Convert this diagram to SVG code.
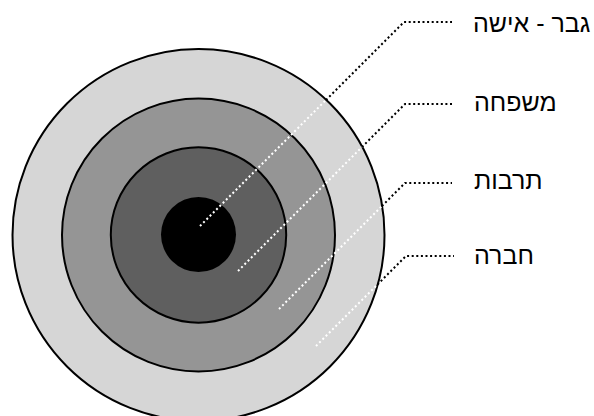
<svg xmlns="http://www.w3.org/2000/svg" width="594" height="416" viewBox="0 0 594 416">
<style>
.ring{stroke:#000;stroke-width:2}
.lbl{font-family:"Liberation Sans","DejaVu Sans",sans-serif;font-size:25px;fill:#000}
.w{fill:none;stroke:#fff;stroke-width:2;stroke-dasharray:2 2.6}
.b{fill:none;stroke:#000;stroke-width:2;stroke-dasharray:2 2.6}
</style>
<rect width="594" height="416" fill="#fff"/>
<g id="rings">
<circle id="society" class="ring" cx="198.5" cy="235" r="186" fill="#d6d6d6"/>
<circle id="culture" class="ring" cx="198.5" cy="235" r="136.5" fill="#959595"/>
<circle id="family" class="ring" cx="198.5" cy="235" r="87.7" fill="#5f5f5f"/>
<circle id="couple" cx="198.5" cy="234.5" r="37.5" fill="#000"/>
</g>
<g id="connectors">
<polyline class="w" points="200,226 326,100"/>
<polyline class="b" points="326,100 404,22 452,22"/>
<polyline class="w" points="238,271 362,147"/>
<polyline class="b" points="362,147 405,104 453,104"/>
<polyline class="w" points="279,309 382,206"/>
<polyline class="b" points="382,206 405,183 452,183"/>
<polyline class="w" points="316,346 377.5,284.5"/>
<polyline class="b" points="377.5,284.5 406,256 454,256"/>
</g>
<g id="label-couple"><text class="lbl" x="473" y="32">גבר - אישה</text></g>
<g id="label-family"><text class="lbl" x="474" y="110.5">משפחה</text></g>
<g id="label-culture"><text class="lbl" x="474" y="188.5">תרבות</text></g>
<g id="label-society"><text class="lbl" x="474" y="263.5">חברה</text></g>
</svg>
